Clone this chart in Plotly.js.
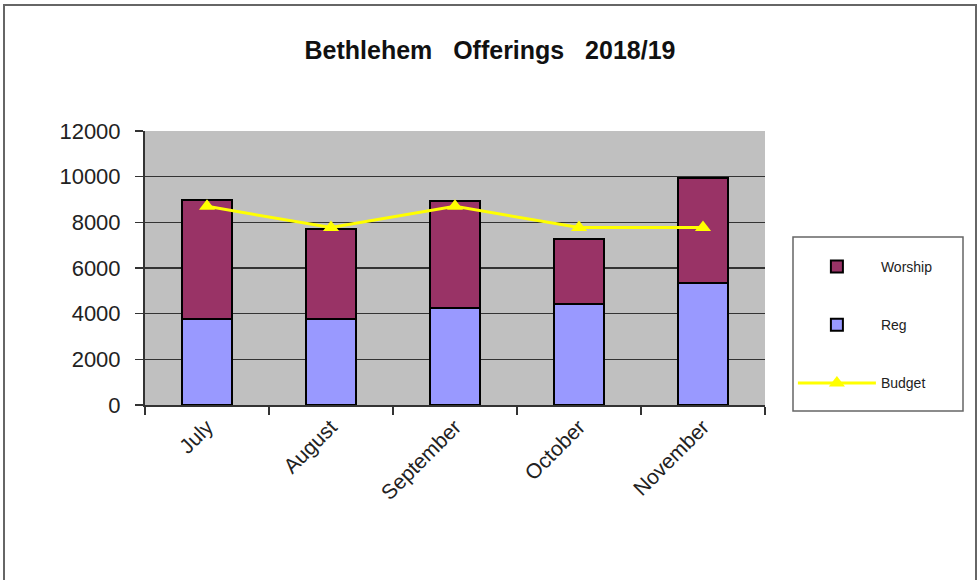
<!DOCTYPE html>
<html>
<head>
<meta charset="utf-8">
<script src="https://cdn.plot.ly/plotly-3.0.1.min.js"></script>
<style>html,body{margin:0;padding:0;background:#fff;}#chart{width:980px;height:580px;}</style>
</head>
<body>
<div id="chart"></div>
<script>
var months = ["July", "August", "September", "October", "November"];
var regValues = [3770, 3770, 4230, 4440, 5350];
var worshipValues = [5210, 3950, 4690, 2810, 4580];
var budgetValues = [8700, 7770, 8700, 7770, 7770];
var yTicks = [0, 2000, 4000, 6000, 8000, 10000, 12000];

var traces = [
  {type: "bar", name: "Reg", x: months, y: regValues,
   marker: {color: "#9999FF", line: {color: "#000000", width: 2}},
   legendgroup: "reg", legendrank: 2, hoverinfo: "y"},
  {type: "bar", name: "Worship", x: months, y: worshipValues,
   marker: {color: "#993366", line: {color: "#000000", width: 2}},
   legendgroup: "worship", legendrank: 1, hoverinfo: "y"},
  {type: "scatter", mode: "lines+markers", name: "Budget", x: months, y: budgetValues,
   line: {color: "#FFFF00", width: 3},
   marker: {symbol: "triangle-up", size: 14, color: "#FFFF00"},
   legendgroup: "budget", legendrank: 3}
];

var layout = {
  width: 980, height: 580,
  margin: {l: 145, r: 215, t: 131, b: 175},
  paper_bgcolor: "#FFFFFF",
  plot_bgcolor: "#C0C0C0",
  font: {family: "Liberation Sans, Arial, sans-serif", color: "#000000"},
  title: {text: "<b>Bethlehem   Offerings   2018/19</b>", x: (490-145)/620, xref: "paper", xanchor: "center",
          y: 1 - 50/580, yref: "container", yanchor: "middle",
          font: {size: 25, family: "Liberation Sans, Arial, sans-serif", color: "#111111"}},
  barmode: "stack",
  bargap: 0.59,
  showlegend: true,
  legend: {x: 1.045, xanchor: "left", y: (405-251)/274, yanchor: "top",
           bgcolor: "rgba(0,0,0,0)", borderwidth: 0,
           traceorder: "grouped", tracegroupgap: 37,
           font: {size: 14, color: "#222222"}, itemwidth: 78},
  xaxis: {type: "category", tickangle: -45, tickfont: {size: 21, color: "#222222"},
          showline: true, linecolor: "#333333", linewidth: 1.5,
          ticks: "outside", tickson: "boundaries", ticklen: 8, tickcolor: "#333333", tickwidth: 1.5,
          showgrid: false, zeroline: false},
  yaxis: {range: [0, 12000], tickvals: yTicks, ticktext: yTicks.map(String),
          tickfont: {size: 22, color: "#222222"}, ticklabelstandoff: 10,
          showline: true, linecolor: "#333333", linewidth: 2,
          ticks: "outside", ticklen: 8, tickcolor: "#333333", tickwidth: 1.5,
          showgrid: true, gridcolor: "#333333", gridwidth: 1.5, zeroline: false},
  shapes: [
    {type: "rect", xref: "paper", yref: "paper",
     x0: (4-145)/620, x1: (976-145)/620, y0: (405-585)/274, y1: (405-5)/274,
     line: {color: "#666666", width: 2}, fillcolor: "rgba(0,0,0,0)", layer: "below"},
    {type: "rect", xref: "paper", yref: "paper",
     x0: (793-145)/620, x1: (963-145)/620, y0: (405-411)/274, y1: (405-237)/274,
     line: {color: "#666666", width: 1.5}, fillcolor: "#FFFFFF", layer: "below"}
  ]
};

Plotly.newPlot("chart", traces, layout, {displayModeBar: false, staticPlot: true});
</script>
</body>
</html>
